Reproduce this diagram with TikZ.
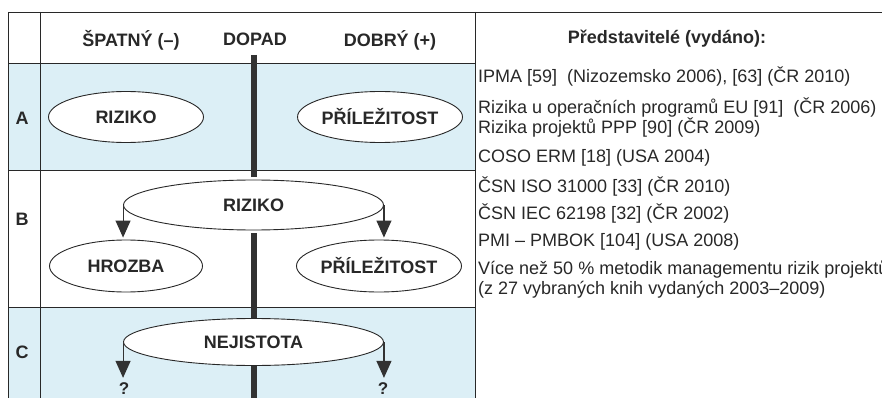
\documentclass[tikz,border=0pt]{standalone}
\usepackage{fontspec}
\setmainfont{Liberation Sans}
\usetikzlibrary{shapes.geometric,arrows.meta}
\definecolor{rowblue}{RGB}{220,239,246}
\definecolor{ink}{RGB}{40,40,40}
\definecolor{barc}{RGB}{50,50,50}
\begin{document}
\begin{tikzpicture}[x=1pt,y=-1pt,
  txt/.style={font=\fontsize{18}{20}\selectfont, text=ink, inner sep=0pt},
  btxt/.style={font=\fontsize{18}{20}\selectfont\bfseries, text=ink, inner sep=0pt},
  ell/.style={ellipse, draw=ink, line width=0.9pt, fill=white, inner sep=0pt, font=\fontsize{18}{20}\selectfont\bfseries, text=ink},
  grid/.style={draw=ink, line width=0.9pt},
  bar/.style={draw=barc, line width=6pt},
  arr/.style={draw=barc, line width=1.1pt, -{Triangle[length=17pt,width=15pt,fill=barc]}}]
\useasboundingbox (0,0) rectangle (882,398);
\fill[white] (0,0) rectangle (882,398);
% row fills
\fill[rowblue] (8,63) rectangle (475,170);
\fill[rowblue] (8,307) rectangle (475,398);
% grid
\draw[grid] (8,12) -- (882,12);
\draw[grid] (8,63) -- (475,63);
\draw[grid] (8,170) -- (475,170);
\draw[grid] (8,307) -- (475,307);
\draw[grid] (8,12) -- (8,398);
\draw[grid] (40,12) -- (40,398);
\draw[grid] (475,12) -- (475,398);
% headers
\node[btxt] (h1) at (131,40) {ŠPATNÝ (–)};
\node[btxt] (h2) at (255,39) {DOPAD};
\node[btxt] (h3) at (390,40) {DOBRÝ (+)};
% row labels
\node[btxt] (la) at (22,118) {A};
\node[btxt] (lb) at (22,219) {B};
\node[btxt] (lc) at (22,352) {C};
% bar segments
\coordinate (b0) at (253.5,55);
\coordinate (b1) at (253.5,177);
\coordinate (b2) at (253.5,233);
\coordinate (b3) at (253.5,322);
\coordinate (b4) at (253.5,363);
\coordinate (b5) at (253.5,398);
\draw[bar] (b0) -- (b1);
\draw[bar] (b2) -- (b3);
\draw[bar] (b4) -- (b5);
% ellipses
\node[ell, minimum width=155pt, minimum height=51pt] (ra) at (126,117) {RIZIKO};
\node[ell, minimum width=151pt, minimum height=51pt] (pa) at (380,117) {PŘÍLEŽITOST};
\node[ell, minimum width=260pt, minimum height=50pt] (rb) at (253.5,205) {RIZIKO};
\node[ell, minimum width=153pt, minimum height=52pt] (hb) at (126,266) {HROZBA};
\node[ell, minimum width=153pt, minimum height=52pt] (pb) at (379,266) {PŘÍLEŽITOST};
\node[ell, minimum width=260pt, minimum height=47pt] (nc) at (253.5,342) {NEJISTOTA};
% question marks
\node[btxt, font=\fontsize{17}{18}\selectfont\bfseries] (q1) at (124,389) {?};
\node[btxt, font=\fontsize{17}{18}\selectfont\bfseries] (q2) at (383,389) {?};
% arrows
\draw[arr] (rb.west) -- ([yshift=2pt]rb.west |- hb.north);
\draw[arr] (rb.east) -- ([yshift=2pt]rb.east |- pb.north);
\draw[arr] (nc.west) -- ([yshift=5pt]nc.west |- q1.north);
\draw[arr] (nc.east) -- ([yshift=5pt]nc.east |- q2.north);
% right panel
\node[btxt, anchor=base] (t0) at (667,44) {Představitelé (vydáno):};
\node[txt, anchor=base west] (t1) at (478,83) {IPMA [59]\ \ (Nizozemsko 2006), [63] (ČR 2010)};
\node[txt, anchor=base west] (t2) at (478,114) {Rizika u operačních programů EU [91]\ \ (ČR 2006)};
\node[txt, anchor=base west] (t3) at (478,134) {Rizika projektů PPP [90] (ČR 2009)};
\node[txt, anchor=base west] (t4) at (478,163) {COSO ERM [18] (USA 2004)};
\node[txt, anchor=base west] (t5) at (478,192) {ČSN ISO 31000 [33] (ČR 2010)};
\node[txt, anchor=base west] (t6) at (478,219) {ČSN IEC 62198 [32] (ČR 2002)};
\node[txt, anchor=base west] (t7) at (478,246) {PMI – PMBOK [104] (USA 2008)};
\node[txt, anchor=base west] (t8) at (478,274) {Více než 50 \% metodik managementu rizik projektů};
\node[txt, anchor=base west] (t9) at (478,294) {(z 27 vybraných knih vydaných 2003–2009)};
\end{tikzpicture}
\end{document}
